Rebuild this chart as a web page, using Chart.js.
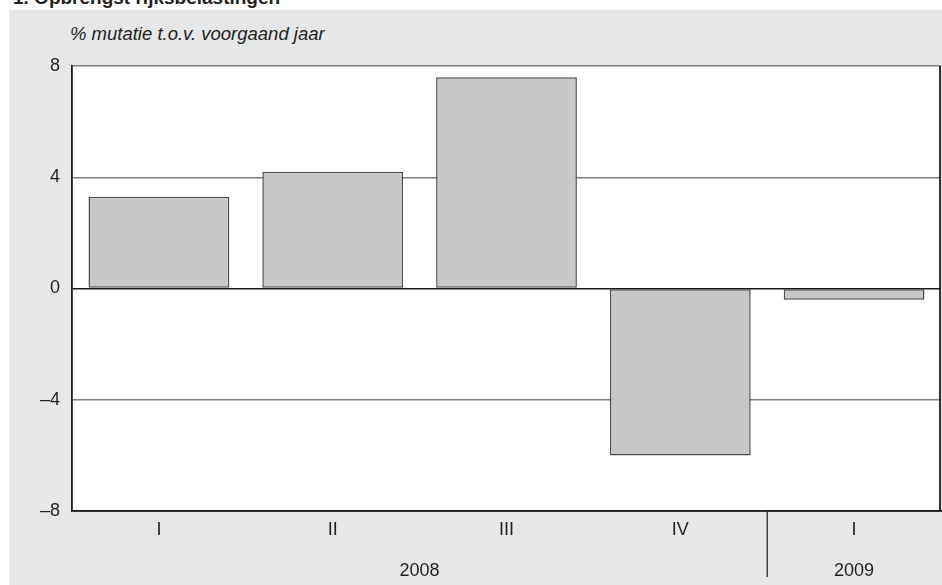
<!DOCTYPE html>
<html>
<head>
<meta charset="utf-8">
<script src="https://cdn.jsdelivr.net/npm/chart.js@4/dist/chart.umd.min.js"></script>
<style>
  body { margin: 0; background: #fff; overflow: hidden; }
  #wrap { position: relative; width: 942px; height: 585px; overflow: hidden; }
  #panel { position: absolute; left: 9px; top: 10px; right: 0; bottom: 0; background: #e6e7e8; }
  #title { position: absolute; left: 13px; top: -12px; font: bold 19px "Liberation Sans", Arial, sans-serif; line-height: 19px; color: #231f20; white-space: nowrap; }
  #unit { position: absolute; left: 70px; top: 23px; font: italic 18.5px "Liberation Sans", Arial, sans-serif; line-height: 22px; color: #231f20; white-space: nowrap; }
  #box { position: absolute; left: 0; top: 0; width: 942px; height: 585px; }
</style>
</head>
<body>
<div id="wrap">
  <div id="panel"></div>
  <div id="title">1. Opbrengst rijksbelastingen</div>
  <div id="unit">% mutatie t.o.v. voorgaand jaar</div>
  <div id="box"><canvas id="chart"></canvas></div>
</div>
<script>
// kwartalen en mutaties (%)
const quarters = ['I', 'II', 'III', 'IV', 'I'];
const values = [3.3, 4.2, 7.6, -6.0, -0.4];
const years = ['2008', '2009'];
const quartersPerYear = [4, 1];

const textColor = '#231f20';
const font = { family: '"Liberation Sans", Arial, sans-serif', size: 18 };

// jaartallen onder de kwartalen + scheidingslijn tussen de jaren
const yearAxis = {
    id: 'yearAxis',
    afterDraw(chart) {
        const ctx = chart.ctx;
        const x = chart.scales.x;
        const bottom = chart.chartArea.bottom;
        let start = 0;
        ctx.save();
        ctx.font = font.size + 'px ' + font.family;
        ctx.fillStyle = textColor;
        ctx.textAlign = 'center';
        ctx.textBaseline = 'middle';
        for (let i = 0; i < years.length; i++) {
            const end = start + quartersPerYear[i] - 1;
            const cx = (x.getPixelForValue(start) + x.getPixelForValue(end)) / 2;
            ctx.fillText(years[i], cx, bottom + 60);
            if (i < years.length - 1) {
                const sep = (x.getPixelForValue(end) + x.getPixelForValue(end + 1)) / 2;
                ctx.strokeStyle = '#1a1a1a';
                ctx.lineWidth = 1.2;
                ctx.beginPath();
                ctx.moveTo(sep, bottom);
                ctx.lineTo(sep, bottom + 66);
                ctx.stroke();
            }
            start = end + 1;
        }
        // rechterrand van het plotvlak
        const a = chart.chartArea;
        ctx.strokeStyle = '#1a1a1a';
        ctx.lineWidth = 1.8;
        ctx.beginPath();
        ctx.moveTo(a.right - 1, a.top);
        ctx.lineTo(a.right - 1, a.bottom);
        ctx.stroke();
        ctx.restore();
    }
};

const plotBg = {
    id: 'plotBg',
    beforeDraw(chart) {
        const a = chart.chartArea;
        chart.ctx.save();
        chart.ctx.fillStyle = '#ffffff';
        chart.ctx.fillRect(a.left, a.top, a.right - a.left, a.bottom - a.top);
        chart.ctx.restore();
    }
};

new Chart(document.getElementById('chart'), {
    type: 'bar',
    data: {
        labels: quarters,
        datasets: [{
            data: values,
            backgroundColor: '#c7c8ca',
            borderColor: '#4d4d4d',
            borderWidth: 1.5,
            borderSkipped: false,
            categoryPercentage: 1,
            barPercentage: 0.81
        }]
    },
    options: {
        responsive: true,
        maintainAspectRatio: false,
        animation: false,
        events: [],
        layout: { padding: { top: 66, right: 1, left: 0, bottom: 0 } },
        plugins: { legend: { display: false }, tooltip: { enabled: false } },
        scales: {
            x: {
                grid: { display: false, drawTicks: false },
                border: { color: '#1a1a1a', width: 1.8 },
                ticks: { color: textColor, font: font, padding: 8, maxRotation: 0 },
                afterFit(s) { s.height = 74; }
            },
            y: {
                min: -8,
                max: 8,
                grid: {
                    drawTicks: false,
                    lineWidth: 1.5,
                    color: (c) => (c.tick.value === 0 || c.tick.value === -8) ? '#1a1a1a' : '#808080'
                },
                border: { color: '#1a1a1a', width: 1.8 },
                ticks: {
                    stepSize: 4,
                    color: textColor,
                    font: font,
                    padding: 12,
                    callback: (v) => v < 0 ? '\u2013' + Math.abs(v) : String(v)
                },
                afterFit(s) { s.width = 72; }
            }
        }
    },
    plugins: [plotBg, yearAxis]
});
</script>
</body>
</html>
